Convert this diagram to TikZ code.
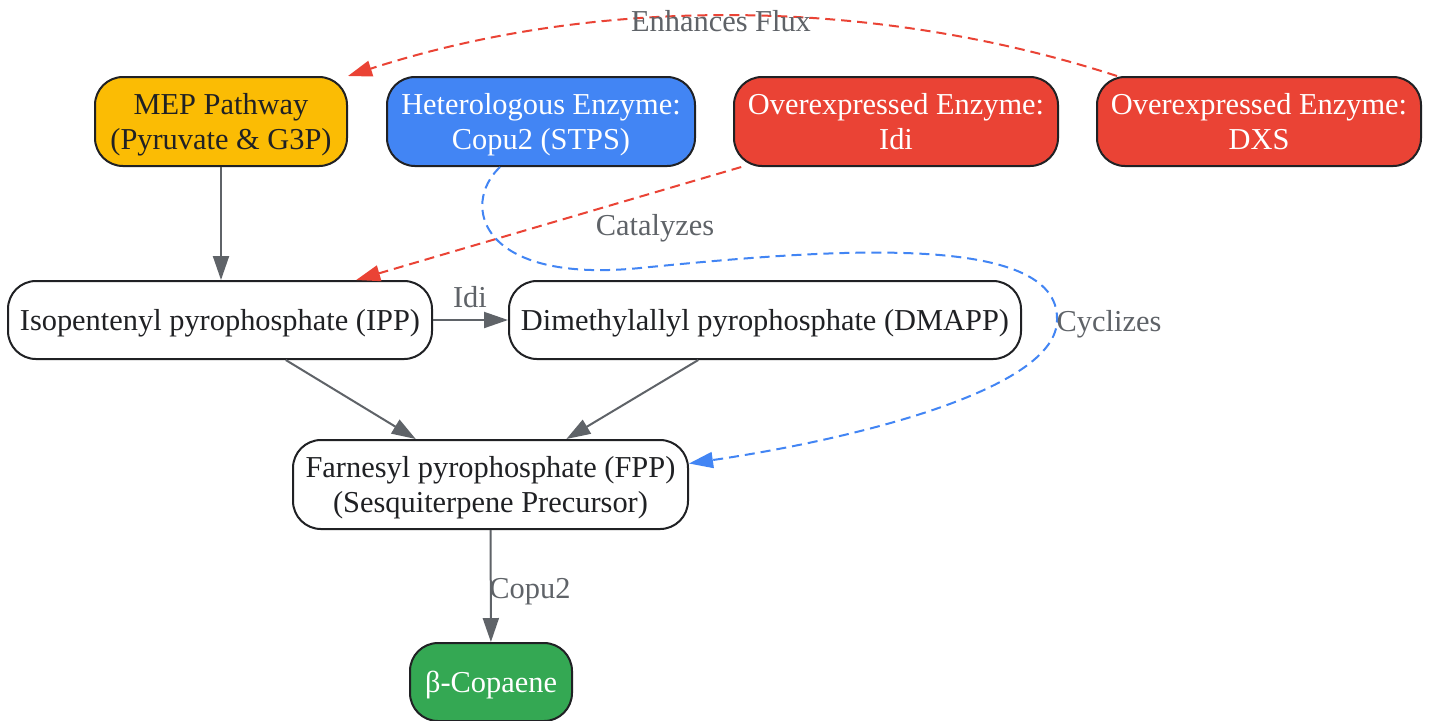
\documentclass[tikz,border=0pt]{standalone}
\usepackage{fontspec}
\setmainfont{Liberation Serif}
\usetikzlibrary{arrows.meta}
\definecolor{cyel}{HTML}{FBBC04}
\definecolor{cblue}{HTML}{4285F4}
\definecolor{cred}{HTML}{EA4335}
\definecolor{cgreen}{HTML}{34A853}
\definecolor{cgrey}{HTML}{5F6368}
\definecolor{cdark}{HTML}{202124}
\begin{document}
\begin{tikzpicture}[x=0.5pt,y=-0.5pt,
  box/.style={draw=cdark, line width=1pt, rounded corners=14pt, align=center, inner sep=0pt,
    font=\fontsize{15.2}{17.5}\selectfont, text=cdark, minimum height=44.5pt, text depth=0pt},
  wbox/.style={box, text=white},
  edge/.style={draw=cgrey, line width=1pt, -{Triangle[length=12pt,width=8pt]}},
  redge/.style={draw=cred, line width=1pt, dash pattern=on 5pt off 3pt, -{Triangle[length=12pt,width=8pt,fill=cred]}},
  bedge/.style={draw=cblue, line width=1pt, dash pattern=on 5pt off 3pt, -{Triangle[length=12pt,width=8pt,fill=cblue]}},
  lbl/.style={text=cgrey, inner sep=0pt, text depth=0pt, font=\fontsize{15.2}{17.5}\selectfont}]
\useasboundingbox[fill=white] (0,0) rectangle (1429,720);

\node[box, fill=cyel, minimum width=126pt] (mep) at (221,121.5) {MEP Pathway\\(Pyruvate \& G3P)};
\node[wbox, fill=cblue, minimum width=154pt] (het) at (541,121.5) {Heterologous Enzyme:\\Copu2 (STPS)};
\node[wbox, fill=cred, minimum width=162pt] (idi) at (896,121.5) {Overexpressed Enzyme:\\Idi};
\node[wbox, fill=cred, minimum width=162pt] (dxs) at (1259,121.5) {Overexpressed Enzyme:\\DXS};
\node[box, fill=white, minimum width=212pt, minimum height=39pt] (ipp) at (220,320) {Isopentenyl pyrophosphate (IPP)};
\node[box, fill=white, minimum width=256pt, minimum height=39pt] (dmapp) at (765,320) {Dimethylallyl pyrophosphate (DMAPP)};
\node[box, fill=white, minimum width=197.5pt] (fpp) at (490.5,484.5) {Farnesyl pyrophosphate (FPP)\\(Sesquiterpene Precursor)};
\node[wbox, fill=cgreen, minimum width=81pt, minimum height=39pt] (cop) at (491,682) {β-Copaene};

\draw[edge] (mep.south) -- (mep.south |- ipp.north);
\draw[edge] (ipp) -- (dmapp);
\draw[edge] (ipp) -- (fpp);
\draw[edge] (dmapp) -- (fpp);
\draw[edge] (fpp) -- (cop);
\draw[redge] (idi) -- (ipp);
\draw[redge] ([xshift=10.5pt]dxs.north west) .. controls (870,-4) and (595,-4) .. (mep.north east);
\coordinate (hs) at ([xshift=-20.5pt]het.south);
\coordinate (fe) at ([yshift=10.5pt]fpp.east);
\draw[bedge] (hs) .. controls (460,205) and (480,284) .. (640,268)
  .. controls (820,250) and (1060,230) .. (1057,320)
  .. controls (1057,390) and (850,440) .. (fe);

\node[lbl] (l1) at (721,21) {Enhances Flux};
\node[lbl] (l2) at (655,225) {Catalyzes};
\node[lbl] (l3) at (470,297) {Idi};
\node[lbl] (l4) at (530,588) {Copu2};
\node[lbl] (l5) at (1109,321) {Cyclizes};
\end{tikzpicture}
\end{document}
